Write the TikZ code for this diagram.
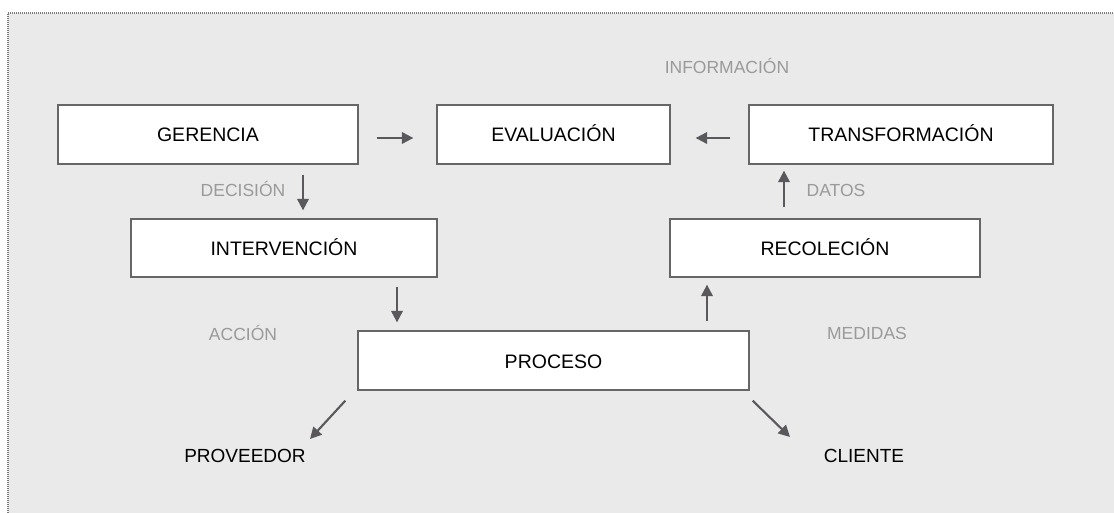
\documentclass[tikz,border=0pt]{standalone}
\usepackage{fontspec}
\setmainfont{Liberation Sans}
\usetikzlibrary{arrows.meta}
\definecolor{panel}{HTML}{EAEAEA}
\definecolor{frame}{HTML}{7A7A7A}
\definecolor{boxline}{HTML}{666666}
\definecolor{arrowc}{HTML}{5A585D}
\definecolor{labelgray}{HTML}{9A9A9A}
\tikzset{
  stagebox/.style={draw=boxline, line width=1.3pt, fill=white, inner sep=0pt,
    font=\fontsize{19.5}{21}\selectfont, text=black,
    text height=15pt, text depth=0pt},
  flow/.style={draw=arrowc, line width=2.1pt, -{Triangle[length=11.5pt,width=11.5pt]}},
  tag/.style={font=\fontsize{17.5}{19}\selectfont, text=labelgray, inner sep=0pt},
  party/.style={font=\fontsize{19}{21}\selectfont, text=black, inner sep=0pt}
}
\begin{document}
\begin{tikzpicture}[x=1pt,y=-1pt]
\useasboundingbox (0,0) rectangle (1114,513);
% panel with dotted top and left edges
\fill[panel] (8,13) rectangle (1114,513);
\draw[frame, line width=1.1pt, dash pattern=on 1pt off 1pt] (8,513) -- (8,13) -- (1114,13);

% stages
\node[stagebox, minimum width=300pt, minimum height=59pt] (g) at (208,134.5) {GERENCIA};
\node[stagebox, minimum width=233pt, minimum height=59pt] (e) at (553.5,134.5) {EVALUACIÓN};
\node[stagebox, minimum width=304pt, minimum height=59pt] (t) at (901,134.5) {TRANSFORMACIÓN};
\node[stagebox, minimum width=306pt, minimum height=58pt] (i) at (284,248) {INTERVENCIÓN};
\node[stagebox, minimum width=310pt, minimum height=58pt] (r) at (825,248) {RECOLECIÓN};
\node[stagebox, minimum width=391pt, minimum height=59pt] (p) at (553.5,360.5) {PROCESO};

% flow labels
\node[tag] (info) at (727,66) {INFORMACIÓN};
\node[tag] (dec) at (243,189) {DECISIÓN};
\node[tag] (dat) at (836,190) {DATOS};
\node[tag] (acc) at (243,333) {ACCIÓN};
\node[tag] (med) at (867,333) {MEDIDAS};

% outside parties
\node[party] (pv) at (245,456) {PROVEEDOR};
\node[party] (cl) at (864,456) {CLIENTE};

% connectors
\draw[flow, shorten <=18pt, shorten >=23pt] ([yshift=-3.5pt]g.east) -- ([yshift=-3.5pt]e.west);
\draw[flow, shorten <=18pt, shorten >=25pt] ([yshift=-3.5pt]t.west) -- ([yshift=-3.5pt]e.east);
\draw[flow, shorten <=10pt, shorten >=8pt] ([xshift=95pt]g.south) -- ([xshift=95pt]g.south |- i.north);
\draw[flow, shorten <=9pt, shorten >=8pt] ([xshift=113pt]i.south) -- ([xshift=113pt]i.south |- p.north);
\draw[flow, shorten <=9pt, shorten >=7pt] ([xshift=153.5pt]p.north) -- ([xshift=153.5pt]p.north |- r.south);
\draw[flow, shorten <=11pt, shorten >=6pt] ([xshift=-41pt]r.north) -- ([xshift=-41pt]r.north |- t.south);
\draw[flow] ([shift={(-12pt,-10pt)}]p.south west) -- ([shift={(65pt,17pt)}]pv.center);
\draw[flow] ([shift={(3pt,-10pt)}]p.south east) -- ([shift={(-74pt,19pt)}]cl.center);
\end{tikzpicture}
\end{document}
